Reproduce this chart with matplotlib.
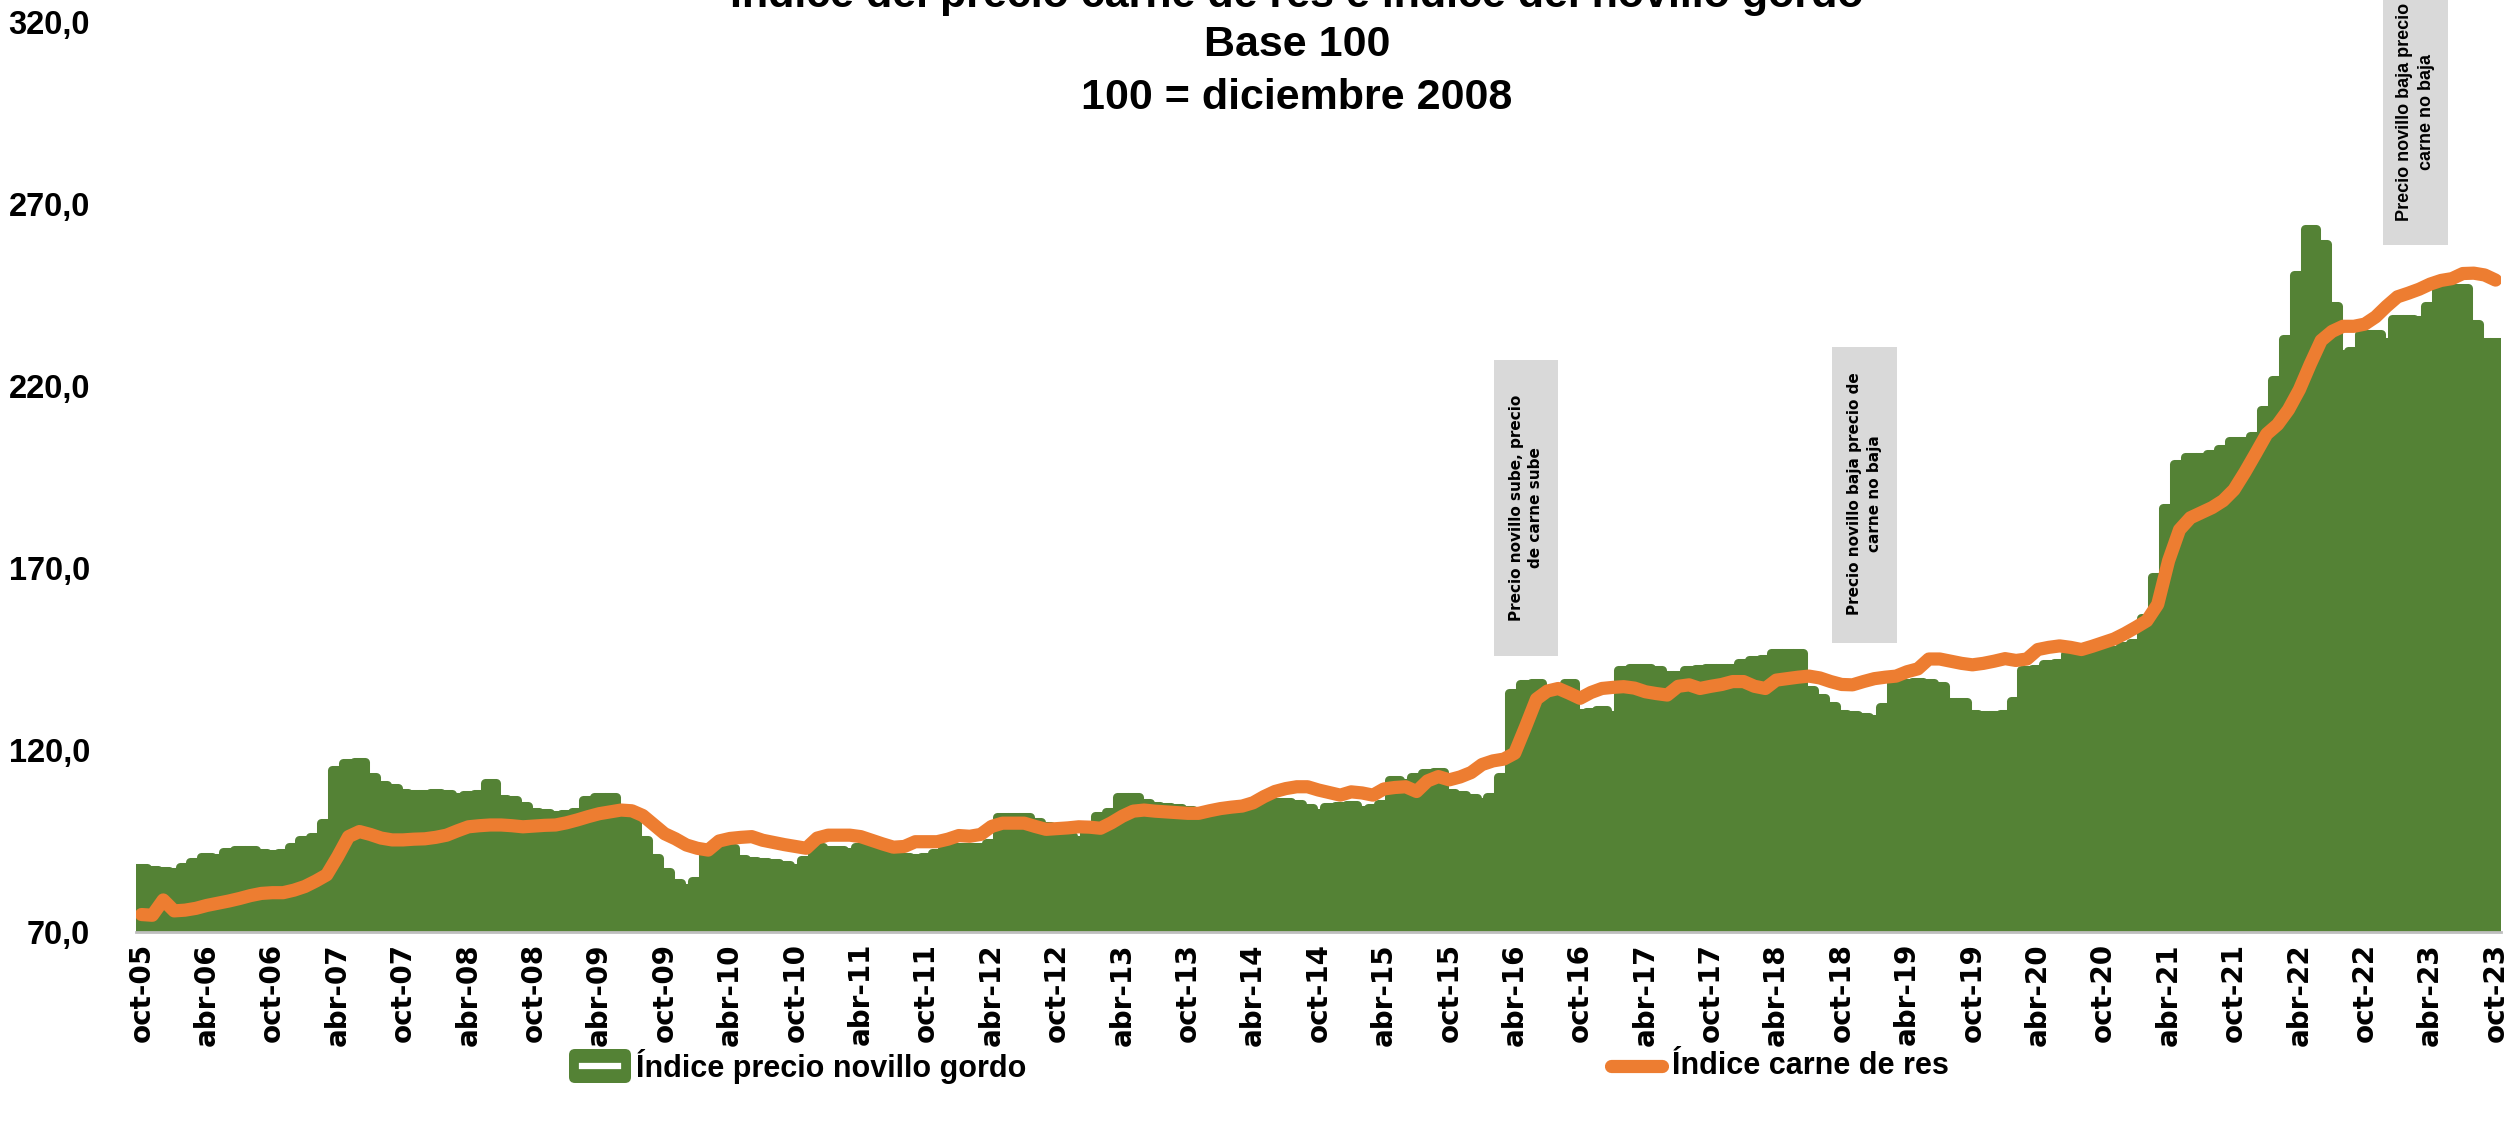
import matplotlib
matplotlib.use('Agg')
import matplotlib.pyplot as plt
from matplotlib.patches import Rectangle, FancyBboxPatch
from matplotlib.lines import Line2D
import numpy as np

plt.rcParams['font.family'] = ['Liberation Sans', 'DejaVu Sans']

W, H = 2514, 1129
GREEN = '#548235'
ORANGE = '#ED7D31'
BOX_GRAY = '#D9D9D9'

# Índice precio novillo gordo, monthly oct-05 .. oct-23
novillo = [
    87.7, 87.0, 86.8, 86.6, 87.8, 89.3, 90.5, 90.4, 92.0, 92.5, 92.5, 91.6,
    91.5, 91.6, 93.4, 95.3, 96.2, 99.9, 114.5, 116.5, 116.6, 112.7, 110.4, 109.5,
    108.2, 108.0, 108.0, 108.3, 108.0, 107.2, 107.6, 108.0, 110.8, 106.6, 106.2, 104.6,
    103.0, 102.6, 102.2, 102.4, 103.0, 106.3, 107.2, 107.0, 101.7, 100.8, 95.3, 90.2,
    86.6, 83.4, 82.0, 84.0, 93.0, 93.0, 93.0, 90.0, 89.6, 89.2, 88.9, 88.5,
    87.5, 89.8, 93.4, 92.6, 92.4, 92.0, 93.4, 92.5, 91.8, 91.2, 90.6, 90.2,
    90.6, 91.6, 93.0, 93.4, 93.4, 93.4, 94.4, 101.7, 101.7, 101.7, 100.3, 99.0,
    97.6, 96.5, 95.3, 97.5, 102.0, 103.0, 107.2, 107.2, 105.5, 104.6, 104.4, 104.0,
    103.4, 103.0, 103.0, 103.0, 103.0, 103.6, 104.4, 105.2, 105.8, 105.6, 105.3, 104.2,
    102.6, 104.4, 104.6, 104.9, 103.5, 104.2, 105.3, 111.8, 110.8, 112.7, 113.6, 114.0,
    108.1, 107.6, 106.7, 105.8, 107.0, 112.7, 135.6, 138.0, 138.3, 136.5, 136.8, 138.3,
    130.1, 130.5, 131.0, 129.5, 142.0, 142.4, 142.4, 142.0, 140.6, 140.6, 142.0, 142.2,
    142.4, 142.4, 142.4, 144.0, 144.7, 145.0, 146.6, 146.6, 146.6, 136.5, 134.2, 132.0,
    130.0, 129.6, 129.2, 128.4, 131.9, 138.3, 138.3, 138.6, 138.3, 137.5, 133.3, 133.3,
    129.8, 129.6, 129.6, 129.8, 133.5, 142.0, 142.3, 143.7, 143.8, 146.5, 146.6, 146.6,
    147.0, 147.5, 148.5, 149.4, 156.4, 167.6, 186.6, 198.5, 200.6, 200.6, 201.3, 202.7,
    204.8, 204.8, 206.2, 213.3, 221.7, 232.9, 250.5, 263.1, 258.9, 242.0, 228.7, 229.5,
    234.3, 234.3, 232.2, 238.5, 238.5, 238.0, 242.0, 247.0, 247.0, 247.0, 237.1, 232.2,
    232.2,
]

# Índice carne de res
carne = [
    74.8, 74.6, 78.8, 75.8, 76.0, 76.5, 77.3, 77.9, 78.5, 79.2, 80.0, 80.6,
    80.8, 80.8, 81.5, 82.5, 84.0, 85.7, 90.7, 96.2, 97.6, 96.8, 95.8, 95.3,
    95.3, 95.5, 95.6, 96.0, 96.6, 97.8, 98.9, 99.2, 99.4, 99.4, 99.2, 98.9,
    99.1, 99.3, 99.4, 100.0, 100.8, 101.7, 102.5, 103.0, 103.5, 103.3, 102.0, 99.5,
    97.0, 95.6, 93.9, 93.0, 92.5, 95.0, 95.7, 96.0, 96.2, 95.2, 94.6, 94.0,
    93.5, 93.0, 95.8, 96.6, 96.6, 96.6, 96.2, 95.2, 94.2, 93.3, 93.5, 94.8,
    94.8, 94.8, 95.5, 96.5, 96.3, 96.8, 99.0, 99.9, 99.9, 99.9, 99.0, 98.2,
    98.4, 98.6, 98.9, 98.8, 98.5, 100.0, 101.8, 103.2, 103.5, 103.2, 103.0, 102.8,
    102.6, 102.6, 103.3, 103.9, 104.3, 104.6, 105.5, 107.2, 108.6, 109.4, 109.9, 109.9,
    109.0, 108.3, 107.6, 108.5, 108.2, 107.6, 109.3, 109.7, 109.9, 108.6, 111.5, 112.7,
    111.8, 112.6, 113.8, 116.0, 117.0, 117.5, 119.1, 126.4, 134.0, 136.2, 136.9, 135.6,
    134.2, 135.8, 136.9, 137.2, 137.4, 137.0, 136.0, 135.5, 135.1, 137.5, 137.9, 136.9,
    137.5, 138.0, 138.8, 138.8, 137.5, 136.9, 139.2, 139.6, 140.0, 140.3, 139.8, 138.8,
    138.0, 137.9, 138.8, 139.6, 140.0, 140.3, 141.5, 142.3, 145.0, 145.0, 144.4, 143.8,
    143.4, 143.8, 144.4, 145.1, 144.6, 145.0, 147.6, 148.2, 148.6, 148.2, 147.6, 148.5,
    149.5, 150.5, 152.0, 153.7, 155.5, 160.0, 172.0, 180.5, 183.8, 185.2, 186.6, 188.5,
    191.5, 196.3, 201.5, 206.8, 209.4, 213.5, 219.0, 226.0, 232.5, 235.0, 236.4, 236.4,
    237.0, 239.0, 241.9, 244.5, 245.5, 246.6, 248.0, 249.0, 249.5, 250.9, 251.0, 250.5,
    249.1,
]

x_tick_labels = [
    'oct-05', 'abr-06', 'oct-06', 'abr-07', 'oct-07', 'abr-08', 'oct-08', 'abr-09',
    'oct-09', 'abr-10', 'oct-10', 'abr-11', 'oct-11', 'abr-12', 'oct-12', 'abr-13',
    'oct-13', 'abr-14', 'oct-14', 'abr-15', 'oct-15', 'abr-16', 'oct-16', 'abr-17',
    'oct-17', 'abr-18', 'oct-18', 'abr-19', 'oct-19', 'abr-20', 'oct-20', 'abr-21',
    'oct-21', 'abr-22', 'oct-22', 'abr-23', 'oct-23',
]
y_ticks = [70, 120, 170, 220, 270, 320]

title_lines = ['Índice del precio carne de res e índice del novillo gordo',
               'Base 100', '100 = diciembre 2008']
notes = ['Precio novillo sube, precio\nde carne sube',
         'Precio novillo baja precio de\ncarne no baja',
         'Precio novillo baja precio\ncarne no baja']
legend_labels = ['Índice precio novillo gordo', 'Índice carne de res']


def fx(px):
    return px / W


def fy(py):
    return 1 - py / H


fig = plt.figure(figsize=(W / 100, H / 100), dpi=100)
ax = fig.add_axes([fx(136), fy(932), fx(2501 - 136), (932 - 22) / H])

months = np.arange(len(novillo))
# thick round-joined outline gives the bumpy column tops of the original
ax.bar(months, novillo, width=1.0, color=GREEN, edgecolor=GREEN,
       linewidth=6.5, joinstyle='round', zorder=2)
ax.plot(months, carne, color=ORANGE, lw=9.5, solid_capstyle='round',
        solid_joinstyle='round', zorder=3)

ax.set_xlim(-0.5, len(novillo) - 0.5)
ax.set_ylim(70, 320)

ax.set_yticks(y_ticks)
ax.set_yticklabels([('%.1f' % v).replace('.', ',') for v in y_ticks],
                   fontsize=23.5, fontweight='bold')
ax.set_xticks(months[::6])
ax.set_xticklabels(x_tick_labels, rotation=90, fontsize=20, fontweight='bold',
                   family='DejaVu Sans', va='top')
ax.tick_params(axis='y', length=0, pad=33)
ax.tick_params(axis='x', length=0, pad=8)
for s in ['top', 'right', 'left']:
    ax.spines[s].set_visible(False)
ax.spines['bottom'].set_color('#bfbfbf')
ax.spines['bottom'].set_linewidth(2)
ax.spines['bottom'].set_zorder(4)

# title (first line sits partly above the top edge, as in the original)
for text, yc in zip(title_lines, [-8, 45, 98]):
    fig.text(fx(1297), fy(yc), text, ha='center', va='center',
             fontsize=31, fontweight='bold')

# gray note boxes
boxes = [(1494, 360, 1558, 656, 'DejaVu Sans', 11),
         (1832, 347, 1897, 643, 'DejaVu Sans', 11),
         (2383, -10, 2448, 245, 'Liberation Sans', 13)]
text_centers = [508, 494, 112]
for (x0, y0, x1, y1, fam, fs), note, tc in zip(boxes, notes, text_centers):
    fig.add_artist(Rectangle((fx(x0), fy(y1)), fx(x1 - x0), (y1 - y0) / H,
                             transform=fig.transFigure, facecolor=BOX_GRAY,
                             edgecolor='none', zorder=5))
    fig.text(fx((x0 + x1) / 2), fy(tc), note, rotation=90, ha='center',
             va='center', multialignment='center', fontsize=fs,
             fontweight='bold', family=fam, linespacing=1.4, zorder=6)

# legend
ly = (H - 1066) / 100
fig.add_artist(FancyBboxPatch((5.69, ly - 0.17), 0.62, 0.34,
                              boxstyle='round,pad=0,rounding_size=0.06',
                              transform=fig.dpi_scale_trans,
                              facecolor=GREEN, edgecolor='none'))
fig.add_artist(Line2D([5.82, 6.18], [ly, ly], transform=fig.dpi_scale_trans,
                      color='white', lw=4.5))
fig.add_artist(Line2D([16.11, 16.62], [ly, ly], transform=fig.dpi_scale_trans,
                      color=ORANGE, lw=9.5, solid_capstyle='round'))
fig.text(fx(636), fy(1066), legend_labels[0], ha='left', va='center',
         fontsize=22, fontweight='bold')
fig.text(fx(1672), fy(1066), legend_labels[1], ha='left', va='center',
         fontsize=22, fontweight='bold')

fig.savefig('out.png', dpi=100, facecolor='white')
